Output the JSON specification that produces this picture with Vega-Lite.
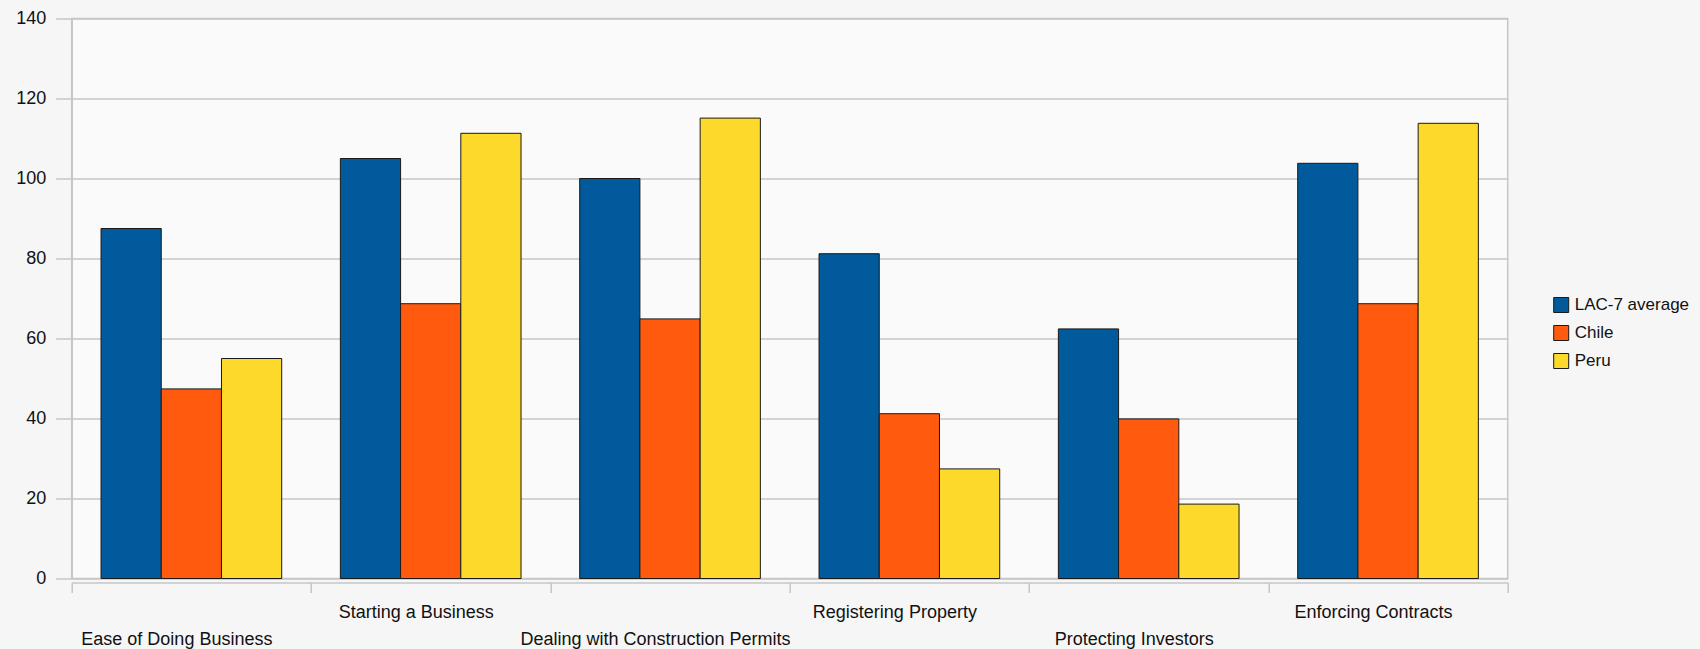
{
  "$schema": "https://vega.github.io/schema/vega-lite/v6.json",
  "width": 1436,
  "height": 560,
  "autosize": {"type": "none"},
  "padding": {"left": 71.7, "top": 18.5, "right": 192.3, "bottom": 70.5},
  "background": "#f6f6f6",
  "config": {
    "font": "Liberation Sans",
    "view": {"fill": "#fafafa", "stroke": "#c6c6c6", "strokeWidth": 1.5}
  },
  "data": {
    "values": [
      {"indicator": "Ease of Doing Business", "series": "LAC-7 average", "value": 87.5},
      {"indicator": "Ease of Doing Business", "series": "Chile", "value": 47.4},
      {"indicator": "Ease of Doing Business", "series": "Peru", "value": 55.0},
      {"indicator": "Starting a Business", "series": "LAC-7 average", "value": 105.0},
      {"indicator": "Starting a Business", "series": "Chile", "value": 68.7},
      {"indicator": "Starting a Business", "series": "Peru", "value": 111.3},
      {"indicator": "Dealing with Construction Permits", "series": "LAC-7 average", "value": 100.0},
      {"indicator": "Dealing with Construction Permits", "series": "Chile", "value": 64.9},
      {"indicator": "Dealing with Construction Permits", "series": "Peru", "value": 115.1},
      {"indicator": "Registering Property", "series": "LAC-7 average", "value": 81.2},
      {"indicator": "Registering Property", "series": "Chile", "value": 41.2},
      {"indicator": "Registering Property", "series": "Peru", "value": 27.4},
      {"indicator": "Protecting Investors", "series": "LAC-7 average", "value": 62.4},
      {"indicator": "Protecting Investors", "series": "Chile", "value": 39.9},
      {"indicator": "Protecting Investors", "series": "Peru", "value": 18.6},
      {"indicator": "Enforcing Contracts", "series": "LAC-7 average", "value": 103.8},
      {"indicator": "Enforcing Contracts", "series": "Chile", "value": 68.7},
      {"indicator": "Enforcing Contracts", "series": "Peru", "value": 113.8}
    ]
  },
  "mark": {"type": "bar", "stroke": "#1a1a1a", "strokeWidth": 1},
  "encoding": {
    "x": {
      "field": "indicator",
      "type": "nominal",
      "sort": ["Ease of Doing Business", "Starting a Business", "Dealing with Construction Permits", "Registering Property", "Protecting Investors", "Enforcing Contracts"],
      "scale": {"paddingInner": 0, "paddingOuter": 0},
      "axis": {
        "title": null,
        "labelAngle": 0,
        "labelOverlap": false,
        "labelBound": false,
        "labelFlush": false,
        "labelLimit": 0,
        "labelFont": "Liberation Sans",
        "labelFontSize": 18,
        "labelColor": "#111111",
        "labelBaseline": "top",
        "labelLineHeight": 27,
        "labelPadding": 11,
        "labelOffset": -15,
        "labelExpr": "indexof(['Ease of Doing Business', 'Dealing with Construction Permits', 'Protecting Investors'], datum.value) >= 0 ? ['', datum.value] : datum.value",
        "offset": 4,
        "domainColor": "#c6c6c6",
        "domainWidth": 1.5,
        "tickBand": "extent",
        "tickOffset": -5,
        "tickColor": "#c6c6c6",
        "tickWidth": 1.5,
        "tickSize": 10,
        "grid": false
      }
    },
    "xOffset": {
      "field": "series",
      "type": "nominal",
      "sort": ["LAC-7 average", "Chile", "Peru"],
      "scale": {"paddingInner": 0, "paddingOuter": 0.487}
    },
    "y": {
      "field": "value",
      "type": "quantitative",
      "scale": {"domain": [0, 140], "nice": false},
      "axis": {
        "title": null,
        "values": [0, 20, 40, 60, 80, 100, 120, 140],
        "labelFont": "Liberation Sans",
        "labelFontSize": 18,
        "labelColor": "#111111",
        "labelPadding": 10,
        "tickSize": 16,
        "tickColor": "#c6c6c6",
        "tickWidth": 1.5,
        "domainColor": "#c6c6c6",
        "domainWidth": 1.5,
        "gridColor": "#c6c6c6",
        "gridWidth": 1.5
      }
    },
    "color": {
      "field": "series",
      "type": "nominal",
      "scale": {
        "domain": ["LAC-7 average", "Chile", "Peru"],
        "range": ["#005a9b", "#ff5a0d", "#fdd92b"]
      },
      "legend": {
        "title": null,
        "orient": "none",
        "legendX": 1481,
        "legendY": 278,
        "padding": 0,
        "symbolType": "square",
        "symbolSize": 225,
        "symbolStrokeColor": "#1a1a1a",
        "symbolStrokeWidth": 1,
        "labelFont": "Liberation Sans",
        "labelFontSize": 17,
        "labelColor": "#111111",
        "labelOffset": 5,
        "rowPadding": 9
      }
    }
  }
}
